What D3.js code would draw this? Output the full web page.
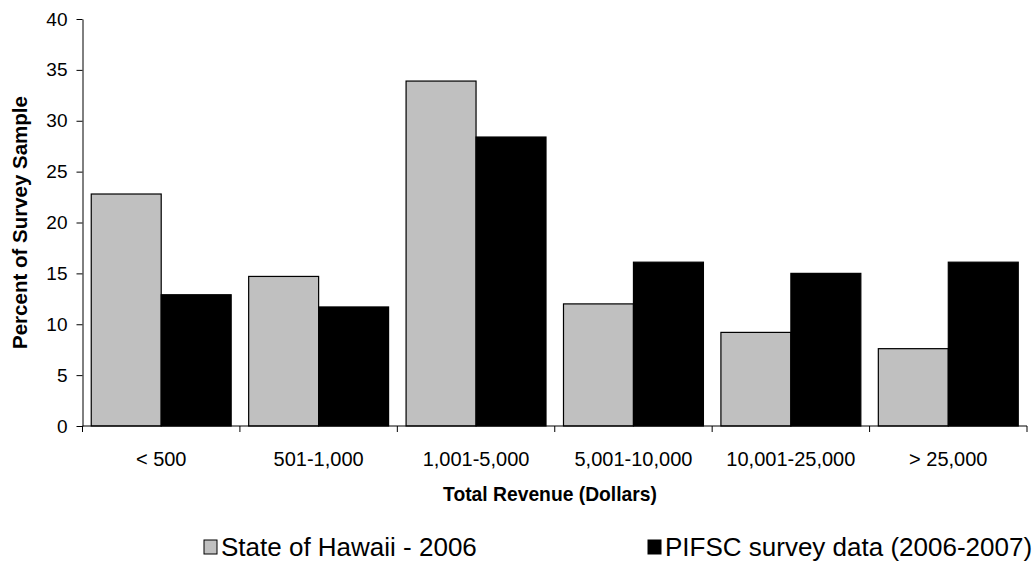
<!DOCTYPE html>
<html>
<head>
<meta charset="utf-8">
<script src="https://cdn.jsdelivr.net/npm/d3@7"></script>
<style>
  body { margin: 0; background: #fff; }
  svg { display: block; font-family: "Liberation Sans", Arial, sans-serif; }
</style>
</head>
<body>
<svg id="chart" width="1036" height="575"></svg>
<script>
// Revenue brackets and the share of respondents in each
const categories = ["< 500", "501-1,000", "1,001-5,000", "5,001-10,000", "10,001-25,000", "> 25,000"];
const seriesNames = ["State of Hawaii - 2006", "PIFSC survey data (2006-2007)"];
const stateHawaii = [22.8, 14.7, 33.9, 12.0, 9.2, 7.6];
const pifscSurvey = [12.9, 11.7, 28.4, 16.1, 15.0, 16.1];
const yTicks = [0, 5, 10, 15, 20, 25, 30, 35, 40];
const colors = ["#c0c0c0", "#000000"];

const svg = d3.select("#chart");
const plotLeft = 82.5, plotRight = 1027, plotTop = 19, plotBottom = 426;

const x0 = d3.scaleBand().domain(categories).range([plotLeft, plotRight]).padding(0);
const x1 = d3.scaleBand().domain(seriesNames)
  .range([0, x0.bandwidth()]).paddingInner(0).paddingOuter(0.125);
const y = d3.scaleLinear().domain([0, 40]).range([plotBottom, plotTop]);

const rows = categories.map((c, i) => ({ cat: c, vals: [stateHawaii[i], pifscSurvey[i]] }));

// Bars
const groups = svg.append("g").selectAll("g").data(rows).join("g")
  .attr("transform", d => `translate(${x0(d.cat)},0)`);
groups.selectAll("rect").data(d => d.vals.map((v, j) => ({ v, j })))
  .join("rect")
  .attr("x", d => x1(seriesNames[d.j]))
  .attr("y", d => y(d.v))
  .attr("width", x1.bandwidth())
  .attr("height", d => y(0) - y(d.v))
  .attr("fill", d => colors[d.j])
  .attr("stroke", "#000")
  .attr("stroke-width", 1.2);

// Y axis
const yAxis = svg.append("g").attr("transform", `translate(${plotLeft},0)`)
  .call(d3.axisLeft(y).tickValues(yTicks).tickSize(6).tickPadding(9).tickSizeOuter(0));
yAxis.select(".domain").attr("stroke", "#000");
yAxis.selectAll(".tick line").attr("stroke", "#000");
yAxis.selectAll("text").attr("font-size", 19).attr("fill", "#000")
  .attr("font-family", "Liberation Sans, Arial, sans-serif");

// X axis: ticks on category boundaries
const xAxis = svg.append("g").attr("transform", `translate(0,${plotBottom})`);
xAxis.append("line").attr("x1", plotLeft).attr("x2", plotRight)
  .attr("stroke", "#000");
const boundaries = categories.map(c => x0(c)).concat([plotRight]);
xAxis.selectAll("line.tk").data(boundaries).join("line").attr("class", "tk")
  .attr("x1", d => d).attr("x2", d => d).attr("y1", 0).attr("y2", 6)
  .attr("stroke", "#000");
xAxis.selectAll("text").data(categories).join("text")
  .attr("x", d => x0(d) + x0.bandwidth() / 2)
  .attr("y", 40)
  .attr("text-anchor", "middle")
  .attr("font-size", 20)
  .text(d => d);

// Axis titles
svg.append("text")
  .attr("x", 550).attr("y", 501)
  .attr("text-anchor", "middle").attr("font-size", 19.3).attr("font-weight", "bold")
  .text("Total Revenue (Dollars)");
svg.append("text")
  .attr("transform", `translate(27,${(plotTop + plotBottom) / 2}) rotate(-90)`)
  .attr("text-anchor", "middle").attr("font-size", 20.5).attr("font-weight", "bold")
  .text("Percent of Survey Sample");

// Legend
const legendX = [204, 648];
const legend = svg.append("g").selectAll("g").data(seriesNames).join("g")
  .attr("transform", (d, i) => `translate(${legendX[i]},547)`);
legend.append("rect")
  .attr("x", 0).attr("y", -7).attr("width", 13).attr("height", 14)
  .attr("fill", (d, i) => colors[i]).attr("stroke", "#000").attr("stroke-width", 1);
legend.append("text")
  .attr("x", 17).attr("y", 9)
  .attr("font-size", 26)
  .text(d => d);
</script>
</body>
</html>
